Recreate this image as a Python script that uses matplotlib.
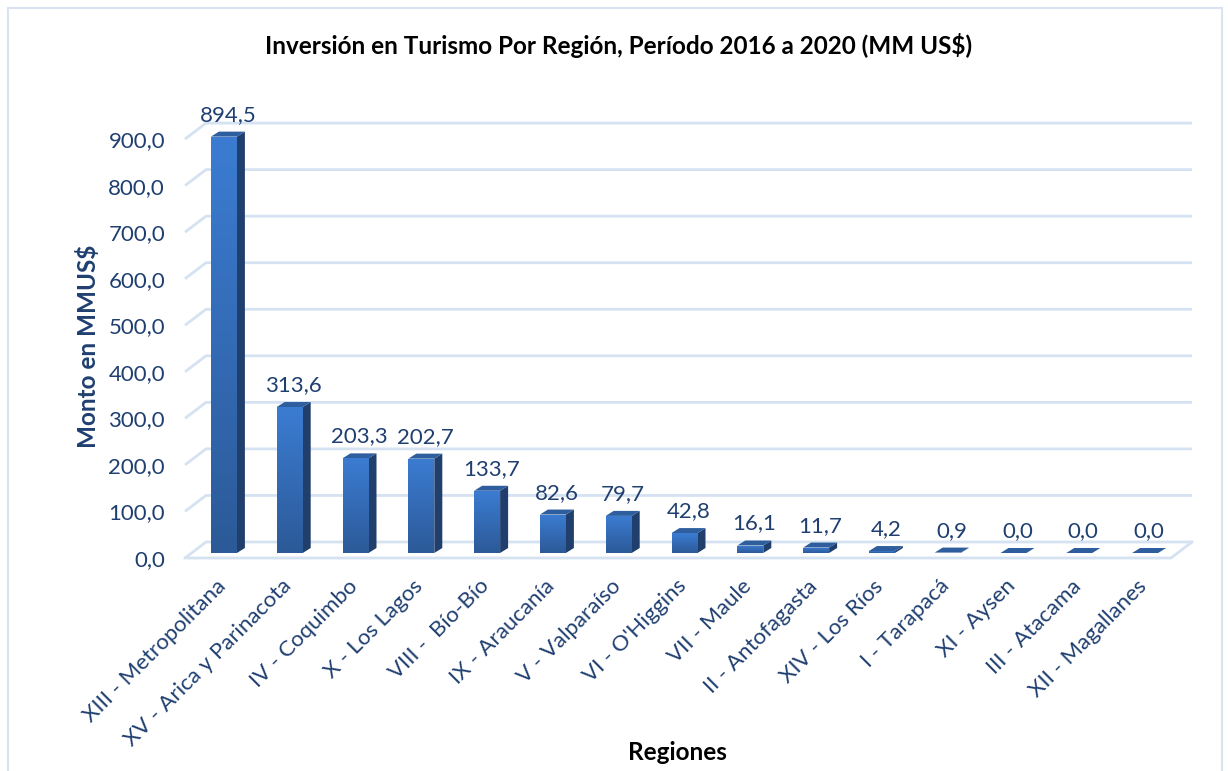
import numpy as np
import matplotlib
matplotlib.use("Agg")
import matplotlib.pyplot as plt
from matplotlib.patches import Polygon, Rectangle
from matplotlib.colors import LinearSegmentedColormap

# ---------- datos ----------
regiones = ["XIII - Metropolitana", "XV - Arica y Parinacota", "IV - Coquimbo",
            "X - Los Lagos", "VIII -  Bío-Bío", "IX - Araucanía", "V - Valparaíso",
            "VI - O'Higgins", "VII - Maule", "II - Antofagasta", "XIV - Los Ríos",
            "I - Tarapacá", "XI - Aysen", "III - Atacama", "XII - Magallanes"]
montos = [894.5, 313.6, 203.3, 202.7, 133.7, 82.6, 79.7, 42.8, 16.1, 11.7,
          4.2, 0.9, 0.0, 0.0, 0.0]
y_ticks = [0, 100, 200, 300, 400, 500, 600, 700, 800, 900]

titulo = "Inversión en Turismo Por Región, Período 2016 a 2020 (MM US$)"
y_label = "Monto en MMUS$"
x_label = "Regiones"

# ---------- estilo ----------
plt.rcParams["font.family"] = ["Lato", "DejaVu Sans"]
AZUL_TXT = "#1F3F70"
GRID = "#D5E2F2"
FRONT_TOP, FRONT_BOT = "#3B7CD2", "#2C5A98"
SIDE = "#213F6C"
TOP = "#2E5E9E"

fig = plt.figure(figsize=(12.28, 7.71), dpi=100)
W, H = 1228, 771
# ejes en pixeles: x de 191 a 1178, y=0 en 553, 100 = 46.55 px
ax = fig.add_axes([191 / W, (H - 553) / H, 987 / W, 442.2 / H])
n = len(montos)
ax.set_xlim(-0.5, n - 0.5)
ax.set_ylim(0, 950)
ax.axis("off")

px_x = n / 987.0          # unidades x por pixel
px_y = 950 / 442.2        # unidades y por pixel

# profundidad 3D (en pixeles -> datos)
FLOOR_F = 5 * px_y        # borde frontal del piso bajo la base de las barras
FLOOR_B = 11 * px_y       # pared de fondo
FLOOR_DX = 21 * px_x
BAR_DX, BAR_DY = 8 * px_x, 5 * px_y
HALF = 13 * px_x
x_left = -0.5 - 6 * px_x
x_right_back = n - 0.5 + 14 * px_x
x_right_front = x_right_back - FLOOR_DX

# rejilla de pared + diagonales laterales
for v in y_ticks:
    yb = v + FLOOR_B
    yf = v - FLOOR_F
    ax.plot([x_left, x_left + FLOOR_DX, x_right_back], [yf, yb, yb],
            color=GRID, lw=2, solid_capstyle="butt", clip_on=False, zorder=1)
# piso
ax.plot([x_left, x_right_front, x_right_back], [-FLOOR_F, -FLOOR_F, FLOOR_B],
        color=GRID, lw=2, clip_on=False, zorder=1)

# barras 3D
cmap = LinearSegmentedColormap.from_list("fb", [FRONT_BOT, FRONT_TOP])
grad = np.linspace(0, 1, 64).reshape(-1, 1)
for i, v in enumerate(montos):
    x0, x1 = i - HALF, i + HALF
    # cara lateral
    ax.add_patch(Polygon([(x1, 0), (x1 + BAR_DX, BAR_DY), (x1 + BAR_DX, v + BAR_DY), (x1, v)],
                         closed=True, facecolor=SIDE, edgecolor="none", zorder=3, clip_on=False))
    # cara superior
    ax.add_patch(Polygon([(x0, v), (x0 + BAR_DX, v + BAR_DY), (x1 + BAR_DX, v + BAR_DY), (x1, v)],
                         closed=True, facecolor=TOP, edgecolor="none", zorder=3, clip_on=False))
    # cara frontal con degradado
    if v > 0:
        im = ax.imshow(grad, extent=(x0, x1, 0, v), origin="lower", cmap=cmap,
                       aspect="auto", zorder=4, interpolation="bilinear")
        im.set_clip_path(Rectangle((x0, 0), x1 - x0, v, transform=ax.transData))
    # etiqueta de valor
    ax.annotate(f"{v:.1f}".replace(".", ","), xy=(i + BAR_DX / 2, v + BAR_DY),
                xytext=(0, 5), textcoords="offset points", ha="center", va="bottom",
                fontsize=16, color=AZUL_TXT, zorder=5, annotation_clip=False)

ax.set_xlim(-0.5, n - 0.5)
ax.set_ylim(0, 950)

# etiquetas eje y (alineadas al frente)
for v in y_ticks:
    ax.text(-0.5 - 26 * px_x, v - FLOOR_F - 2 * px_y, f"{v:.1f}".replace(".", ","),
            ha="right", va="center", fontsize=16, color=AZUL_TXT, clip_on=False)

# etiquetas categorias
for i, r in enumerate(regiones):
    ax.text(i - 0.13, -FLOOR_F - 18 * px_y, r, rotation=45, rotation_mode="anchor",
            ha="right", va="top", fontsize=16, color=AZUL_TXT, clip_on=False)

fig.text(88 / W, 1 - 346 / H, y_label, rotation=90, ha="center", va="center",
         fontsize=17.5, fontweight="bold", color=AZUL_TXT)
fig.text(677 / W, 1 - 752 / H, x_label, ha="center", va="center",
         fontsize=17.5, fontweight="bold", color="black")
fig.text(619 / W, 1 - 46 / H, titulo, ha="center", va="center",
         fontsize=17.5, fontweight="bold", color="black")

# marco del grafico
fig.add_artist(Rectangle((8 / W, -0.02), 1214 / W, 1.02 - 8 / H, transform=fig.transFigure,
                         fill=False, edgecolor="#D9E4F2", lw=1.5))

plt.savefig("out.png", dpi=100)
